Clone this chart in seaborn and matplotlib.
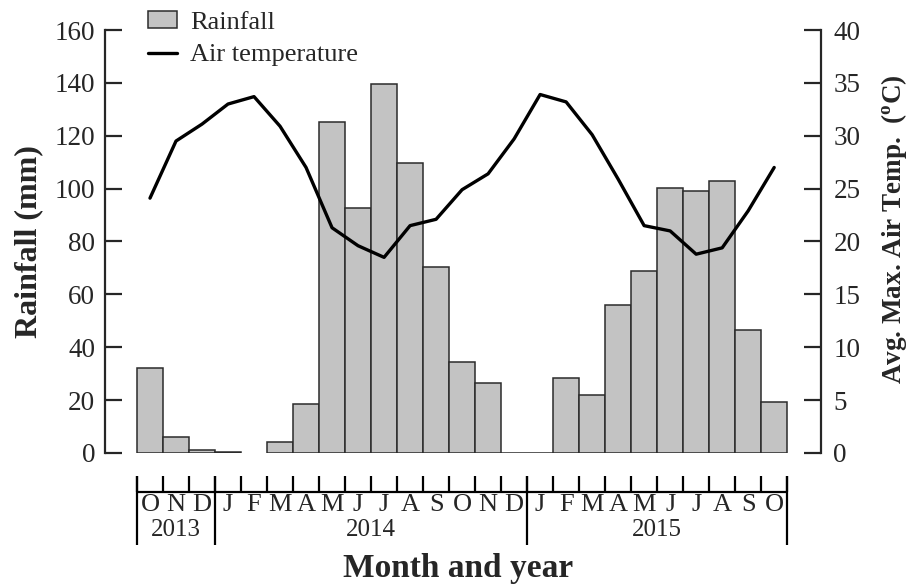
import numpy as np
import pandas as pd
import matplotlib
matplotlib.use("Agg")
import matplotlib.pyplot as plt
from matplotlib.patches import Patch
from matplotlib.lines import Line2D
import seaborn as sns

# Monthly series, Oct 2013 - Oct 2015
month_keys = ["2013-10", "2013-11", "2013-12",
              "2014-01", "2014-02", "2014-03", "2014-04", "2014-05", "2014-06",
              "2014-07", "2014-08", "2014-09", "2014-10", "2014-11", "2014-12",
              "2015-01", "2015-02", "2015-03", "2015-04", "2015-05", "2015-06",
              "2015-07", "2015-08", "2015-09", "2015-10"]
month_letters = ["O", "N", "D",
                 "J", "F", "M", "A", "M", "J", "J", "A", "S", "O", "N", "D",
                 "J", "F", "M", "A", "M", "J", "J", "A", "S", "O"]
rainfall_mm = [32.2, 6.0, 1.0,
               0.3, np.nan, 4.2, 18.6, 125.2, 92.5, 139.5, 109.8, 70.3, 34.5, 26.5, 0.0,
               0.0, 28.5, 22.0, 56.0, 68.7, 100.3, 99.0, 102.9, 46.5, 19.3]
air_temp_c = [24.1, 29.5, 31.1,
              33.0, 33.7, 30.9, 27.0, 21.3, 19.6, 18.5, 21.5, 22.1, 24.9, 26.4, 29.7,
              33.9, 33.2, 30.1, 25.9, 21.5, 21.0, 18.8, 19.4, 22.9, 27.0]
years = ["2013", "2014", "2015"]
year_spans = [(0, 2), (3, 14), (15, 24)]

sns.set_style("ticks")
plt.rcParams["font.family"] = ["Liberation Serif", "DejaVu Serif"]
plt.rcParams["mathtext.fontset"] = "custom"
plt.rcParams["mathtext.rm"] = "Liberation Serif"
plt.rcParams["mathtext.bf"] = "Liberation Serif:bold"

df = pd.DataFrame({"month": month_keys, "rain": rainfall_mm,
                   "idx": np.arange(len(month_keys)), "temp": air_temp_c})

W, H = 909, 587
fig = plt.figure(figsize=(W / 100, H / 100), dpi=100)
ax = fig.add_axes([105 / W, 1 - 453 / H, (821 - 105) / W, (453 - 30) / H])

bar_color = "#c3c3c3"
edge_color = "#2b2b2b"
sns.barplot(data=df.dropna(subset=["rain"]), x="month", y="rain", order=month_keys,
            color=bar_color, saturation=1, width=1.0, edgecolor=edge_color,
            linewidth=1.1, errorbar=None, ax=ax)
ax.set_ylim(0, 160)
ax.set_xlim(-1.73, 25.8)
ax.set_yticks(np.arange(0, 161, 20))
ax.set_xticks([])
ax.set_xlabel("")
ax.set_ylabel("Rainfall (mm)", fontsize=23, fontweight="bold", labelpad=8)

ax2 = ax.twinx()
sns.lineplot(data=df, x="idx", y="temp", color="black", linewidth=2.4, ax=ax2)
ax2.set_ylim(0, 40)
ax2.set_xlim(-1.73, 25.8)
ax2.set_yticks(np.arange(0, 41, 5))
ax2.set_xlabel("")
ax2.set_ylabel(r"Avg. Max. Air Temp.  ($\mathbf{^o}$C)", fontsize=19.5,
               fontweight="bold")
ax2.yaxis.set_label_coords(1.081, 0.528)

for a in (ax, ax2):
    for s in ("top", "bottom"):
        a.spines[s].set_visible(False)
    a.tick_params(axis="y", direction="in", length=12, width=1.6, labelsize=19.5)
ax.spines["right"].set_visible(False)
ax2.spines["left"].set_visible(False)
ax.spines["left"].set_linewidth(1.6)
ax2.spines["right"].set_linewidth(1.6)
ax.tick_params(axis="y", pad=7)
ax2.tick_params(axis="y", pad=9)

# Two-level month / year axis below the plot
tr = ax.get_xaxis_transform()
h0 = 423.0
y_top = -(476 - 453) / h0
y_line = -(492 - 453) / h0
y_year = -(545 - 453) / h0
kw = dict(transform=tr, clip_on=False, color="black", lw=1.6, solid_capstyle="butt")
n = len(month_keys)
ax.plot([-0.5, n - 0.5], [y_line, y_line], **kw)
for b in np.arange(n + 1) - 0.5:
    ax.plot([b, b], [y_top, y_line], **kw)
for s, e in year_spans:
    ax.plot([s - 0.5, s - 0.5], [y_top, y_year], **kw)
ax.plot([n - 0.5, n - 0.5], [y_top, y_year], **kw)
for i, m in enumerate(month_letters):
    ax.text(i, -(505 - 453) / h0, m, transform=tr, ha="center", va="center", fontsize=19)
for yr, (s, e) in zip(years, year_spans):
    ax.text((s + e) / 2, -(530 - 453) / h0, yr, transform=tr, ha="center",
            va="center", fontsize=18)
fig.text(458 / W, 1 - 568 / H, "Month and year", ha="center", va="center",
         fontsize=24, fontweight="bold")

handles = [Patch(facecolor=bar_color, edgecolor=edge_color, linewidth=1.1),
           Line2D([], [], color="black", linewidth=2.4)]
ax2.legend(handles, ["Rainfall", "Air temperature"], loc="upper left",
           bbox_to_anchor=(148 / W, 1 - 11 / H), bbox_transform=fig.transFigure,
           frameon=False, fontsize=19, handlelength=1.1, handleheight=0.6,
           handletextpad=0.5, labelspacing=0.38, borderaxespad=0, borderpad=0)

fig.savefig("out.png", dpi=100)
